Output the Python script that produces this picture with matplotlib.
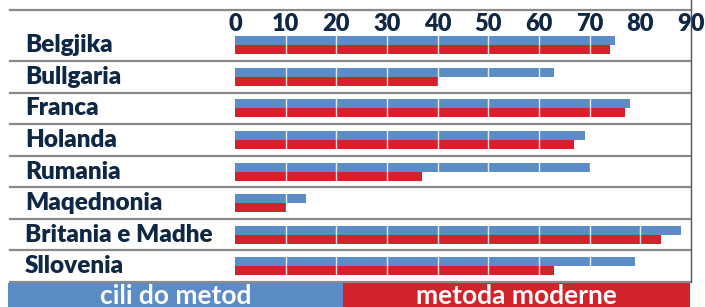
import matplotlib
matplotlib.use("Agg")
import matplotlib.pyplot as plt
import matplotlib.transforms as mtransforms
from matplotlib.lines import Line2D
from matplotlib.patches import Rectangle
import numpy as np

# ── data ──────────────────────────────────────────────────────────
countries = ["Belgjika", "Bullgaria", "Franca", "Holanda", "Rumania",
             "Maqednonia", "Britania e Madhe", "Sllovenia"]
any_method = [75, 63, 78, 69, 70, 14, 88, 79]      # cili do metod
modern = [74, 40, 77, 67, 37, 10, 84, 63]          # metoda moderne
ticks = list(range(0, 91, 10))
legend_labels = ["cili do metod", "metoda moderne"]

BLUE = "#5b8cc6"
RED = "#d2232a"
NAVY = "#0e2745"
GREY = "#8a8a8a"

plt.rcParams["font.family"] = ["Lato", "DejaVu Sans"]

W, H = 705, 307
fig = plt.figure(figsize=(W / 100, H / 100), dpi=100)

# bar axes: x 0..90 -> px 235..691, rows between px 29.5 and 282
ax = fig.add_axes([235 / W, 1 - 282 / H, (691 - 235) / W, (282 - 29.5) / H])
n = len(countries)
y = np.arange(n)
h = 0.285
ax.barh(y - h / 2, any_method, height=h, color=BLUE, zorder=2)
ax.barh(y + h / 2, modern, height=h, color=RED, zorder=2)
for t in ticks[1:-1]:
    ax.axvline(t, color="white", lw=1.0, alpha=0.85, zorder=3)

ax.set_xlim(0, 90)
ax.set_ylim(n - 0.5, -0.5)
ax.set_yticks([])
ax.xaxis.tick_top()
ax.set_xticks(ticks, [str(t) for t in ticks])
ax.tick_params(axis="x", length=0, pad=-4, labelsize=17, labelcolor=NAVY)
for lab in ax.get_xticklabels():
    lab.set_fontweight("heavy")
for s in ax.spines.values():
    s.set_visible(False)

# category labels and row separators
tr = mtransforms.blended_transform_factory(fig.transFigure, ax.transData)
for i, c in enumerate(countries):
    fig.text(25 / W, i, c, transform=tr, ha="left", va="center",
             fontsize=17.5, fontweight="heavy", color=NAVY)
for i in range(n):
    fig.add_artist(Line2D([10 / W, 690 / W], [i + 0.5, i + 0.5],
                          transform=tr, color=GREY, lw=1.6))
fig.add_artist(Line2D([10 / W, 690 / W], [1 - 10 / H, 1 - 10 / H],
                      color=GREY, lw=1.6))
fig.add_artist(Line2D([690.5 / W, 690.5 / W], [1 - 282 / H, 1],
                      color="#555555", lw=1.0))

# legend boxes at the bottom
boxes = [(8, 343, BLUE), (343, 690, RED)]
for (x0, x1, col), lab in zip(boxes, legend_labels):
    fig.add_artist(Rectangle((x0 / W, 0), (x1 - x0) / W, 1 - 282 / H - 0.004,
                             transform=fig.transFigure, color=col, lw=0))
    fig.text((x0 + x1) / 2 / W, (1 - 282 / H) / 2 - 0.006, lab,
             ha="center", va="center", fontsize=19, fontweight="bold",
             color="white")

fig.savefig("out.png", dpi=100)
